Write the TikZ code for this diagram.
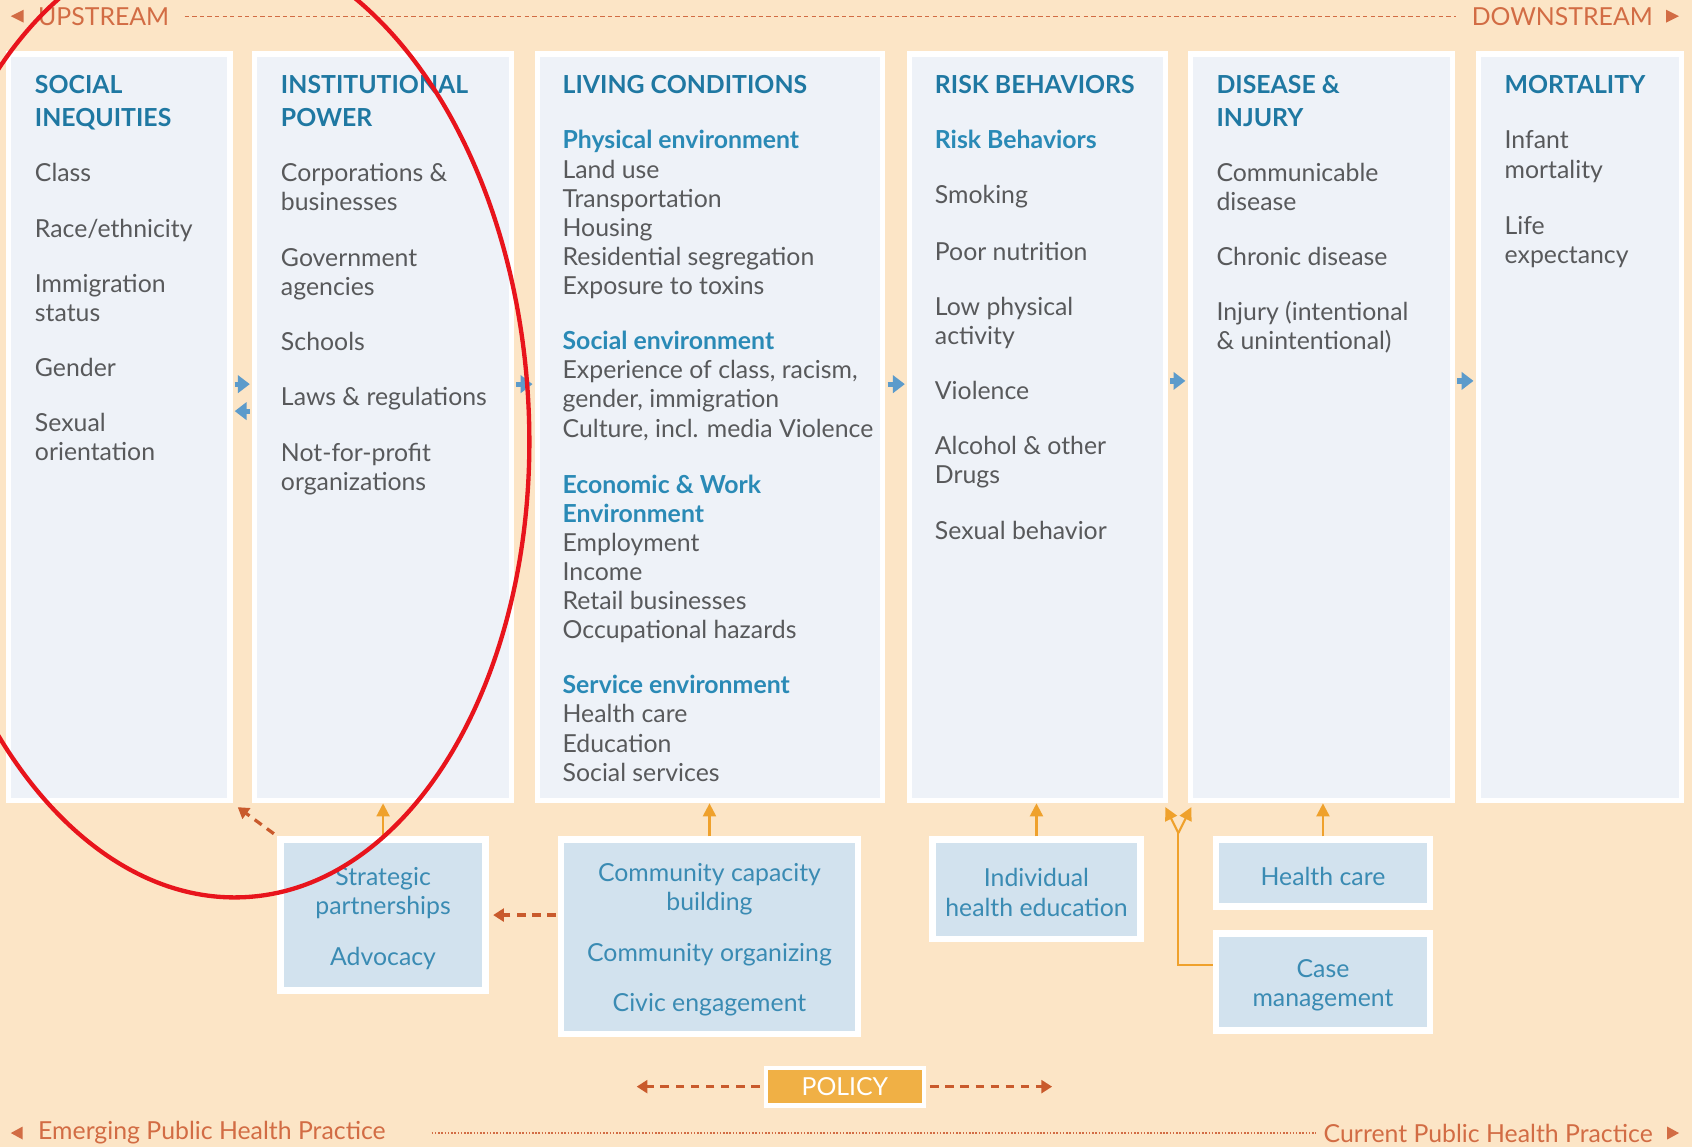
\documentclass[tikz,border=0pt]{standalone}
\usepackage{fontspec}
\setmainfont{Lato}
\usetikzlibrary{arrows.meta,fit,calc}
\definecolor{bg}{HTML}{FCE5C6}
\definecolor{colfill}{HTML}{EEF2F8}
\definecolor{head}{HTML}{1F78A2}
\definecolor{sub}{HTML}{2A8AB6}
\definecolor{body}{HTML}{58595B}
\definecolor{boxfill}{HTML}{D2E2EE}
\definecolor{boxtext}{HTML}{3A8BB3}
\definecolor{arrblue}{HTML}{5C9BCB}
\definecolor{arrorange}{HTML}{EFA12C}
\definecolor{dashred}{HTML}{C95A2C}
\definecolor{rimtextc}{HTML}{D26C44}
\definecolor{policyfill}{HTML}{F0B045}
\definecolor{ringred}{HTML}{E8141C}
\begin{document}
\begin{tikzpicture}[x=0.5pt,y=-0.5pt,
  col/.style={fill=colfill, draw=white, line width=2.5pt, inner sep=0pt},
  hd/.style={anchor=base west, inner sep=0pt, align=left, text=head, font=\fontsize{11.5}{15}\selectfont\bfseries},
  sb/.style={anchor=base west, inner sep=0pt, align=left, text=sub, font=\fontsize{11.5}{13.5}\selectfont\bfseries},
  itm/.style={anchor=base west, inner sep=0pt, align=left, text=body, font=\fontsize{11.5}{13.5}\selectfont},
  bx/.style={fill=boxfill, draw=white, line width=3pt, inner sep=0pt},
  bt/.style={inner sep=0pt, align=center, text=boxtext, font=\fontsize{11.5}{13.5}\selectfont, yshift=-1.5pt},
  bluearr/.style={draw=arrblue, line width=2.4pt, -{Triangle[length=5.5pt,width=8pt]}, shorten <=1pt, shorten >=1pt},
  orarr/.style={draw=arrorange, line width=1pt, -{Triangle[length=6pt,width=6pt]}},
  redarr/.style={draw=dashred, line width=1.5pt, dash pattern=on 4pt off 3pt, -{Triangle[length=5pt,width=6pt]}},
  rimtext/.style={text=rimtextc, font=\fontsize{11.5}{13.5}\selectfont, inner sep=0pt},
]
\useasboundingbox (0,0) rectangle (1568,1063);
\fill[bg] (0,0) rectangle (1568,1063);

% top rim
\node[rimtext, anchor=west] (up) at (35,15) {UPSTREAM};
\node[rimtext, anchor=east] (down) at (1532,15) {DOWNSTREAM};
\fill[rimtextc] (10,15) -- (22,9) -- (22,21) -- cycle;
\fill[rimtextc] (1556,15) -- (1544,9) -- (1544,21) -- cycle;
\draw[rimtextc, line width=0.6pt, dash pattern=on 2pt off 1.5pt, shorten <=7pt, shorten >=7pt] (up.east) -- (down.west);

% columns
\node[col, fit={(8,50) (213,742)}] (c1) {};
\node[col, fit={(236,50) (474,742)}] (c2) {};
\node[col, fit={(498,50) (818,742)}] (c3) {};
\node[col, fit={(843,50) (1080,742)}] (c4) {};
\node[col, fit={(1103,50) (1346,742)}] (c5) {};
\node[col, fit={(1370,50) (1558,742)}] (c6) {};

% (multi-line nodes are placed by the baseline of their last line)
% column 1
\node[hd] (h1) at (32,117) {SOCIAL\\INEQUITIES};
\node[itm] (i11) at (32,168) {Class};
\node[itm] (i12) at (32,220) {Race/ethnicity};
\node[itm] (i13) at (32,298) {Immigration\\status};
\node[itm] (i14) at (32,349) {Gender};
\node[itm] (i15) at (32,427) {Sexual\\orientation};

% column 2
\node[hd] (h2) at (260,117) {INSTITUTIONAL\\POWER};
\node[itm] (i21) at (260,195) {Corporations \&\\businesses};
\node[itm] (i22) at (260,274) {Government\\agencies};
\node[itm] (i23) at (260,325) {Schools};
\node[itm] (i24) at (260,376) {Laws \& regulations};
\node[itm] (i25) at (260,455) {Not-for-profit\\organizations};

% column 3
\node[hd] (h3) at (521,87) {LIVING CONDITIONS};
\node[sb] (s31) at (521,138) {Physical environment};
\node[itm] (i31) at (521,273) {Land use\\Transportation\\Housing\\Residential segregation\\Exposure to toxins};
\node[sb] (s32) at (521,324) {Social environment};
\node[itm] (i32) at (521,405) {Experience of class, racism,\\gender, immigration\\Culture, incl. media Violence};
\node[sb] (s33) at (521,484) {Economic \& Work\\Environment};
\node[itm] (i33) at (521,592) {Employment\\Income\\Retail businesses\\Occupational hazards};
\node[sb] (s34) at (521,643) {Service environment};
\node[itm] (i34) at (521,724) {Health care\\Education\\Social services};

% column 4
\node[hd] (h4) at (866,87) {RISK BEHAVIORS};
\node[sb] (s41) at (866,138) {Risk Behaviors};
\node[itm] (i41) at (866,189) {Smoking};
\node[itm] (i42) at (866,241) {Poor nutrition};
\node[itm] (i43) at (866,319) {Low physical\\activity};
\node[itm] (i44) at (866,370) {Violence};
\node[itm] (i45) at (866,448) {Alcohol \& other\\Drugs};
\node[itm] (i46) at (866,500) {Sexual behavior};

% column 5
\node[hd] (h5) at (1127,117) {DISEASE \&\\INJURY};
\node[itm] (i51) at (1127,195) {Communicable\\disease};
\node[itm] (i52) at (1127,246) {Chronic disease};
\node[itm] (i53) at (1127,324) {Injury (intentional\\\& unintentional)};

% column 6
\node[hd] (h6) at (1394,87) {MORTALITY};
\node[itm] (i61) at (1394,165) {Infant\\mortality};
\node[itm] (i62) at (1394,244) {Life\\expectancy};

% blue arrows between columns
\draw[bluearr] ([yshift=20pt]c1.east) -- ([yshift=20pt]c2.west);
\draw[bluearr] ([yshift=7.5pt]c2.west) -- ([yshift=7.5pt]c1.east);
\draw[bluearr] ([yshift=20pt]c2.east) -- ([yshift=20pt]c3.west);
\draw[bluearr] ([yshift=20pt]c3.east) -- ([yshift=20pt]c4.west);
\draw[bluearr] ([yshift=21.5pt]c4.east) -- ([yshift=21.5pt]c5.west);
\draw[bluearr] ([yshift=21.5pt]c5.east) -- ([yshift=21.5pt]c6.west);

% bottom boxes
\node[bx, fit={(260,778) (450,918)}] (sp) {};
\node[bx, fit={(520,778) (795,958)}] (cc) {};
\node[bx, fit={(864,778) (1057,870)}] (ih) {};
\node[bx, fit={(1127,778) (1325,840)}] (hc) {};
\node[bx, fit={(1127,865) (1325,955)}] (cm) {};
\node[bt] (spt) at (sp.center) {Strategic\\partnerships\\[10pt]Advocacy};
\node[bt] (cct) at (cc.center) {Community capacity\\building\\[10pt]Community organizing\\[10pt]Civic engagement};
\node[bt] (iht) at (ih.center) {Individual\\health education};
\node[bt] (hct) at (hc.center) {Health care};
\node[bt] (cmt) at (cm.center) {Case\\management};

% orange arrows
\draw[orarr] (sp.north) -- (sp.north |- c2.south);
\draw[orarr] (cc.north) -- (cc.north |- c3.south);
\draw[orarr] (ih.north) -- (ih.north |- c4.south);
\draw[orarr] (hc.north) -- (hc.north |- c5.south);
\coordinate (fork) at (1092,772);
\coordinate (tipL) at (1080,748);
\coordinate (tipR) at (1104,748);
\draw[arrorange, line width=1pt] ([yshift=8pt]cm.west) -| (fork);
\draw[orarr] (fork) -- (tipL);
\draw[orarr] (fork) -- (tipR);

% red dashed arrows
\draw[redarr, shorten <=2pt, shorten >=3pt] (sp.north west) -- (c1.south east);
\draw[redarr, shorten <=1pt, shorten >=2pt] (sp.east -| cc.west) -- (sp.east);

% policy
\node[fill=policyfill, draw=white, line width=2pt, minimum width=73pt, minimum height=17.5pt, inner sep=0pt, text=white, font=\fontsize{11.5}{13.5}\selectfont] (pol) at (783,1007) {POLICY};
\coordinate (polL) at (590,1007);
\coordinate (polR) at (975,1007);
\draw[redarr, shorten <=2pt] (pol.west) -- (polL);
\draw[redarr, shorten <=2pt] (pol.east) -- (polR);

% bottom rim
\node[rimtext, anchor=west] (emer) at (35,1050) {Emerging Public Health Practice};
\node[rimtext, anchor=east] (curr) at (1532,1050) {Current Public Health Practice};
\fill[rimtextc] (10,1050) -- (21,1044) -- (21,1056) -- cycle;
\fill[rimtextc] (1556,1050) -- (1545,1044) -- (1545,1056) -- cycle;
\coordinate (dotL) at (400,1050);
\coordinate (dotR) at (1220,1050);
\draw[rimtextc, line width=0.7pt, dash pattern=on 0.7pt off 0.8pt] (dotL) -- (dotR);

% red ring
\draw[ringred, line width=2pt, rotate around={3:(204,388)}] (204,388) ellipse [x radius=143pt, y radius=222pt];
\end{tikzpicture}
\end{document}
